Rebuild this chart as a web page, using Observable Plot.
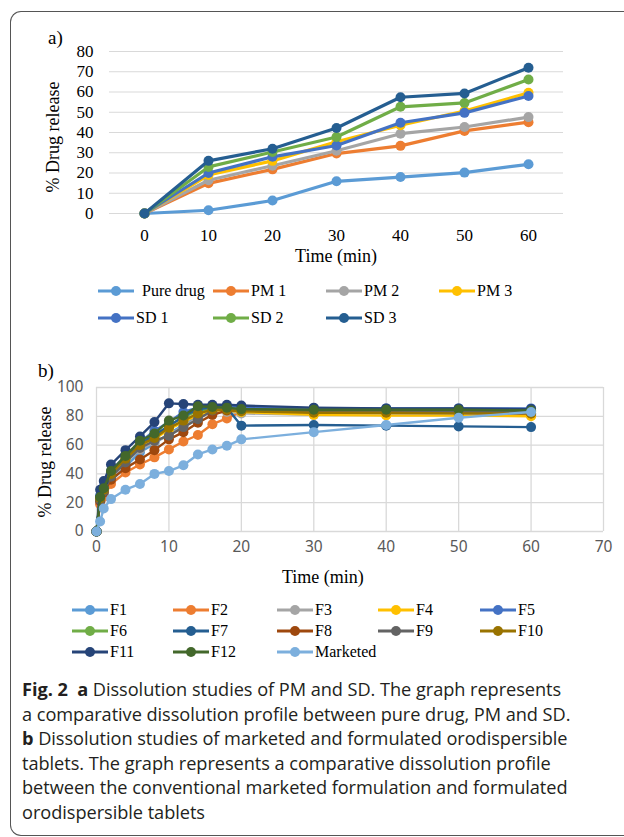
<!DOCTYPE html>
<html>
<head>
<meta charset="utf-8">
<script src="https://cdn.jsdelivr.net/npm/d3@7"></script>
<script src="https://cdn.jsdelivr.net/npm/@observablehq/plot@0.6"></script>
<style>
  html, body { margin:0; padding:0; background:#fff; }
  #root { position:relative; width:624px; height:837px; overflow:hidden; }
  .abs { position:absolute; white-space:nowrap; }
  .serif { font-family:"Liberation Serif","Times New Roman",serif; color:#000; }
  .frame { position:absolute; left:10px; top:11px; width:660px; height:823px;
           border-top:1.5px solid #555; border-left:1.5px solid #555; border-bottom:1.5px solid #555;
           border-top-left-radius:11px; border-bottom-left-radius:11px; }
  .leg { position:absolute; display:flex; align-items:center; white-space:pre;
         font-family:"Liberation Serif","Times New Roman",serif; font-size:16px; color:#000; }
  .cap { position:absolute; left:22px; top:677px; font-family:"Open Sans","Noto Sans",sans-serif;
         font-size:18.2px; line-height:24.6px; color:#231f20; white-space:nowrap; letter-spacing:-0.05px; }
  .cap b { font-weight:700; }
</style>
</head>
<body>
<div id="root">
  <div class="frame"></div>
</div>
<script>
// ---------- Panel a data ----------
const timeA = [0, 10, 20, 30, 40, 50, 60];
const namesA = ["Pure drug", "PM 1", "PM 2", "PM 3", "SD 1", "SD 2", "SD 3"];
const colorsA = ["#5B9BD5", "#ED7D31", "#A5A5A5", "#FFC000", "#4472C4", "#70AD47", "#255E91"];
const pureDrug = [0, 1.6, 6.4, 15.9, 18.0, 20.2, 24.3];
const pm1 = [0, 14.9, 21.8, 29.6, 33.4, 40.8, 45.1];
const pm2 = [0, 16.4, 23.6, 31.0, 39.4, 42.7, 47.6];
const pm3 = [0, 19.0, 26.0, 35.4, 43.6, 50.6, 59.6];
const sd1 = [0, 20.0, 28.0, 33.6, 44.8, 49.7, 58.0];
const sd2 = [0, 23.0, 30.4, 37.8, 52.7, 54.6, 66.2];
const sd3 = [0, 26.0, 32.0, 42.2, 57.4, 59.3, 72.0];
const valuesA = [pureDrug, pm1, pm2, pm3, sd1, sd2, sd3];
const yTicksA = [0, 10, 20, 30, 40, 50, 60, 70, 80];

// ---------- Panel b data ----------
const timeB = [0, 0.5, 1, 2, 4, 6, 8, 10, 12, 14, 16, 18, 20, 30, 40, 50, 60];
const namesB = ["F1","F2","F3","F4","F5","F6","F7","F8","F9","F10","F11","F12","Marketed"];
const colorsB = ["#5B9BD5","#ED7D31","#A5A5A5","#FFC000","#4472C4","#70AD47","#255E91",
                 "#9E480E","#636363","#997300","#264478","#43682B","#7CAFDD"];
const f1  = [0,20,26,35,45,55,61,68,74,80,83.5,84,83,82,82,82,81.5];
const f2  = [0,19,24,33,41,46.5,51.5,57,62.5,67,74.5,78.5,83,82,81.5,81,80.5];
const f3  = [0,21,27,37,48,57,62,67,73,79,83,83,82,81,81,81,81];
const f4  = [0,22,28,39,50,59,64,71,76,81,84,84,83,81,80.5,80.5,80];
const f5  = [0,25,31,42,53,62,70,76,83,86,87,87,86,85.5,85.5,85.5,85.5];
const f6  = [0,23,29,40,51,60,66,74,79,84,85,85.5,85,84,84,84,83.5];
const f7  = [0,24,30,41,52,61,67,73,80,85,86,86,73.5,74,73.5,73,72.5];
const f8  = [0,21,27,36,44,50,56.5,64,69,75.5,81,84,84,83,83,82.5,82];
const f9  = [0,22,28,38,48,58,63,66.5,72.5,78,84,85,84.5,83.5,83.5,83,83];
const f10 = [0,23,29,40,50.5,60,65,72,77,82,84.5,84.5,83.5,82.5,82.5,82,82];
const f11 = [0,29,35,46.5,56.5,66,76,89,88.5,88,88,88,87.5,86,85.5,85.5,85];
const f12 = [0,24,30,42,52.5,63,68,77,80.5,87,86.5,86,85,84.5,84.5,84.5,84];
const marketed = [0,7,16,22.5,29,33,40,42,46,53.5,57,59.5,64,69,74,79,83];
const valuesB = [f1,f2,f3,f4,f5,f6,f7,f8,f9,f10,f11,f12,marketed];
const xTicksB = [0,10,20,30,40,50,60,70];
const yTicksB = [0,20,40,60,80,100];

const root = document.getElementById("root");
function place(el, left, top) {
  el.style.position = "absolute"; el.style.left = left + "px"; el.style.top = top + "px";
  root.appendChild(el);
}
function addText(txt, left, top, css) {
  const d = document.createElement("div");
  d.className = "abs serif";
  d.textContent = txt;
  Object.assign(d.style, css || {});
  place(d, left, top);
  return d;
}

// ---------- Panel a ----------
const rowsA = namesA.map((n, k) => timeA.map((t, i) => ({series: n, t, v: valuesA[k][i]})));
const plotA = Plot.plot({
  width: 624, height: 250,
  marginTop: 51, marginBottom: 37, marginLeft: 109, marginRight: 61,
  style: {fontFamily: "Liberation Serif, Times New Roman, serif", fontSize: "17px", color: "#000", background: "transparent", overflow: "visible"},
  x: {type: "point", domain: timeA, padding: 0.5},
  y: {domain: [0, 80]},
  color: {domain: namesA, range: colorsA},
  marks: [
    Plot.gridY(yTicksA, {stroke: "#d9d9d9", strokeOpacity: 1, strokeWidth: 1.2}),
    Plot.axisY(yTicksA, {tickSize: 0, tickPadding: 16, label: null}),
    Plot.axisX(timeA, {tickSize: 0, tickPadding: 15, label: null}),
    ...rowsA.flatMap(rows => [
      Plot.line(rows, {x: "t", y: "v", stroke: "series", strokeWidth: 3.2}),
      Plot.dot(rows, {x: "t", y: "v", fill: "series", r: 5})
    ])
  ]
});
place(plotA, 0, 0);
addText("a)", 48, 27, {fontSize: "19px"});
addText("Time (min)", 0, 246, {fontSize: "18px", width: "672px", textAlign: "center"});
const ylA = addText("% Drug release", 0, 0, {fontSize: "18px"});
ylA.style.left = "53px"; ylA.style.top = "137px";
ylA.style.transform = "translate(-50%,-50%) rotate(-90deg)";

// legend a
const legPosA = [[98,291],[213,291],[326,291],[439,291],[98,318],[213,318],[326,318]];
function legendItem(name, color, x, y, gap) {
  const d = document.createElement("div");
  d.className = "leg";
  const ns = "http://www.w3.org/2000/svg";
  const s = document.createElementNS(ns, "svg");
  s.setAttribute("width", 36); s.setAttribute("height", 12);
  const l = document.createElementNS(ns, "line");
  l.setAttribute("x1", 0); l.setAttribute("x2", 36); l.setAttribute("y1", 6); l.setAttribute("y2", 6);
  l.setAttribute("stroke", color); l.setAttribute("stroke-width", 3);
  const c = document.createElementNS(ns, "circle");
  c.setAttribute("cx", 18); c.setAttribute("cy", 6); c.setAttribute("r", 5); c.setAttribute("fill", color);
  s.appendChild(l); s.appendChild(c);
  const t = document.createElement("span");
  t.textContent = name; t.style.marginLeft = gap + "px";
  d.appendChild(s); d.appendChild(t);
  d.style.transform = "translateY(-50%)";
  place(d, x, y);
}
namesA.forEach((n, k) => legendItem(n, colorsA[k], legPosA[k][0], legPosA[k][1], k === 0 ? 8 : 2));

// ---------- Panel b ----------
const rowsB = namesB.map((n, k) => timeB.map((t, i) => ({series: n, t, v: valuesB[k][i]})));
const plotB = Plot.plot({
  width: 624, height: 235,
  marginTop: 32, marginBottom: 59, marginLeft: 96, marginRight: 21,
  style: {fontFamily: "Noto Sans, Liberation Sans, sans-serif", fontSize: "15.5px", color: "#595959", background: "transparent", overflow: "visible"},
  x: {domain: [0, 70]},
  y: {domain: [0, 100]},
  color: {domain: namesB, range: colorsB},
  marks: [
    Plot.gridX(xTicksB, {stroke: "#d9d9d9", strokeOpacity: 1, strokeWidth: 1.3}),
    Plot.gridY(yTicksB, {stroke: "#d9d9d9", strokeOpacity: 1, strokeWidth: 1.3}),
    Plot.axisY(yTicksB, {tickSize: 0, tickPadding: 13, label: null}),
    Plot.axisX(xTicksB, {tickSize: 0, tickPadding: 9, label: null}),
    ...rowsB.flatMap(rows => [
      Plot.line(rows, {x: "t", y: "v", stroke: "series", strokeWidth: 2.4}),
      Plot.dot(rows, {x: "t", y: "v", fill: "series", r: 5})
    ])
  ]
});
place(plotB, 0, 355);
addText("b)", 38, 360, {fontSize: "19px"});
addText("Time (min)", 282, 567, {fontSize: "18px"});
const ylB = addText("% Drug release", 0, 0, {fontSize: "18px"});
ylB.style.left = "45px"; ylB.style.top = "462px";
ylB.style.transform = "translate(-50%,-50%) rotate(-90deg)";

// legend b
const legColsB = [72, 173, 277, 378, 480];
const legRowsB = [610, 631, 652];
namesB.forEach((n, k) => legendItem(n, colorsB[k], legColsB[k % 5], legRowsB[Math.floor(k / 5)], 2));

// ---------- caption ----------
const cap = document.createElement("div");
cap.className = "cap";
cap.innerHTML = "<b>Fig. 2</b>&nbsp; <b>a</b> Dissolution studies of PM and SD. The graph represents<br>" +
  "a comparative dissolution profile between pure drug, PM and SD.<br>" +
  "<b>b</b> Dissolution studies of marketed and formulated orodispersible<br>" +
  "tablets. The graph represents a comparative dissolution profile<br>" +
  "between the conventional marketed formulation and formulated<br>" +
  "orodispersible tablets";
root.appendChild(cap);
</script>
</body>
</html>
